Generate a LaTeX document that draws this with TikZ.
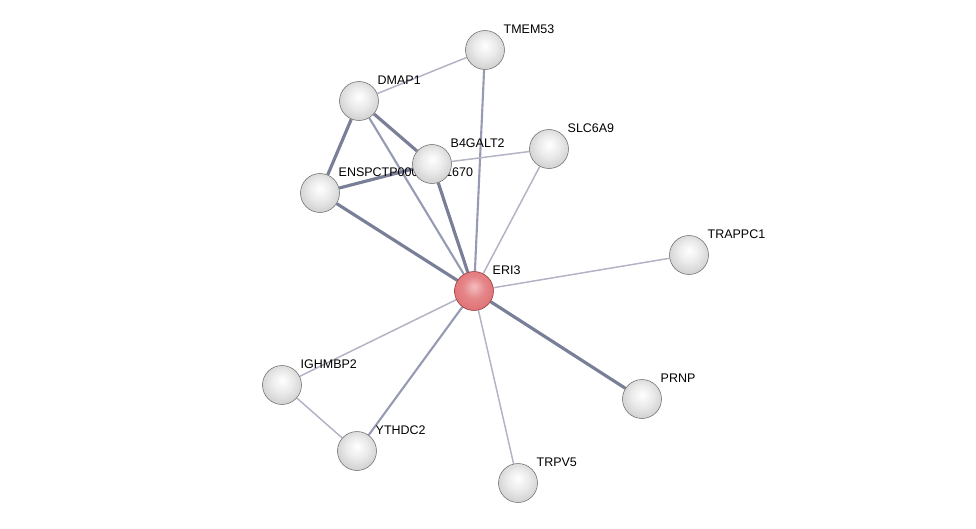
\documentclass[tikz,border=0pt]{standalone}
\usepackage{fontspec}
\setmainfont{Liberation Sans}
\usetikzlibrary{backgrounds}
\definecolor{eThin}{RGB}{178,180,198}
\definecolor{eMid}{RGB}{150,154,178}
\definecolor{eThick}{RGB}{122,127,152}
\definecolor{bRim}{RGB}{105,105,105}
\definecolor{rRim}{RGB}{140,50,54}
\definecolor{rTop}{RGB}{245,190,192}
\definecolor{rMid}{RGB}{222,110,114}
\definecolor{rLow}{RGB}{200,85,90}
\pgfdeclareradialshading{protball}{\pgfpoint{0bp}{6bp}}{%
  color(0bp)=(white); color(14bp)=(white!92!black); color(30bp)=(white!80!black);
  color(42bp)=(white!72!black); color(50bp)=(white!45!black)}
\pgfdeclareradialshading{queryball}{\pgfpoint{0bp}{6bp}}{%
  color(0bp)=(rTop); color(14bp)=(rMid!70!rTop); color(30bp)=(rMid);
  color(42bp)=(rLow); color(50bp)=(rRim)}

\begin{document}
\begin{tikzpicture}[
    x=0.02cm, y=-0.02cm,
    font=\fontsize{7.1}{8}\selectfont,
    prot/.style={circle, minimum size=0.78cm, inner sep=0pt, shading=protball,
                 draw=bRim, line width=0.3pt, label={[lbl]north east:#1}},
    query/.style={prot=#1, shading=queryball, draw=rRim},
    lbl/.style={inner sep=1pt, label distance=0pt, xshift=1.5pt},
    thin edge/.style={eThin, line width=0.85pt},
    mid edge/.style={eMid, line width=1.2pt},
    thick edge/.style={eThick, line width=1.8pt}
]
  \useasboundingbox (0,0) rectangle (976,528);

  \node[prot=TMEM53] (tmem53) at (485,50) {};
  \node[prot=DMAP1] (dmap1) at (359,101) {};
  \node[prot=SLC6A9] (slc6a9) at (549,149) {};
  \node[prot=ENSPCTP00000011670] (enspctp) at (320,193) {};
  \node[prot=B4GALT2] (b4galt2) at (432,164) {};
  \node[prot=TRAPPC1] (trappc1) at (689,255) {};
  \node[query=ERI3] (eri3) at (474,291) {};
  \node[prot=IGHMBP2] (ighmbp2) at (282,385) {};
  \node[prot=PRNP] (prnp) at (642,399) {};
  \node[prot=YTHDC2] (ythdc2) at (357,451) {};
  \node[prot=TRPV5] (trpv5) at (518,483) {};

  \begin{scope}[on background layer]
    \draw[thin edge] (dmap1) -- (tmem53);
    \draw[mid edge] (tmem53) -- (eri3);
    \draw[thick edge] (dmap1) -- (enspctp);
    \draw[thick edge] (dmap1) -- (b4galt2);
    \draw[mid edge] (dmap1) -- (eri3);
    \draw[thick edge] (enspctp) -- (b4galt2);
    \draw[thick edge] (enspctp) -- (eri3);
    \draw[thin edge] (b4galt2) -- (slc6a9);
    \draw[thick edge] (b4galt2) -- (eri3);
    \draw[thin edge] (slc6a9) -- (eri3);
    \draw[thin edge] (trappc1) -- (eri3);
    \draw[thick edge] (prnp) -- (eri3);
    \draw[thin edge] (trpv5) -- (eri3);
    \draw[mid edge] (ythdc2) -- (eri3);
    \draw[thin edge] (ighmbp2) -- (eri3);
    \draw[thin edge] (ighmbp2) -- (ythdc2);
  \end{scope}
\end{tikzpicture}
\end{document}
